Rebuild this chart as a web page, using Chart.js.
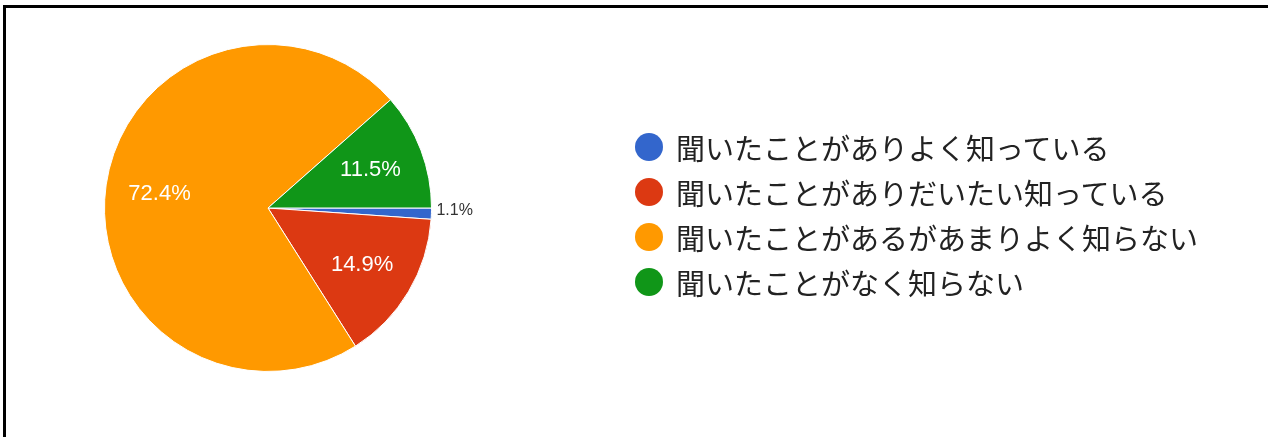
<!DOCTYPE html>
<html>
<head>
<meta charset="utf-8">
<script src="https://cdn.jsdelivr.net/npm/chart.js@4.4.1/dist/chart.umd.min.js"></script>
<style>
  html, body { margin: 0; padding: 0; background: #fff; }
  body { width: 1268px; height: 437px; position: relative; overflow: hidden; }
  #frame { position: absolute; left: 3px; top: 5px; width: 1280px; height: 450px;
           border-top: 3px solid #000; border-left: 3px solid #000; box-sizing: border-box; }
  #wrap { position: absolute; left: 0; top: 0; width: 1268px; height: 437px; }
  #legend { position: absolute; left: 635px; top: 124px; margin: 0; padding: 0; list-style: none;
            font-family: "Noto Sans CJK JP", sans-serif; font-size: 29px; color: #222; }
  #legend li { height: 45px; display: flex; align-items: center; white-space: nowrap; }
  #legend .dot { width: 28px; height: 28px; border-radius: 50%; margin-right: 13px; flex: none; }
</style>
</head>
<body>
<div id="frame"></div>
<div id="wrap"><canvas id="c" width="1268" height="437"></canvas></div>
<ul id="legend"></ul>
<script>
const categories = [
  "聞いたことがありよく知っている",
  "聞いたことがありだいたい知っている",
  "聞いたことがあるがあまりよく知らない",
  "聞いたことがなく知らない"
];
const values = [1.1, 14.9, 72.4, 11.5];
const labels = ["1.1%", "14.9%", "72.4%", "11.5%"];
const colors = ["#3366cc", "#dc3912", "#ff9900", "#109618"];

// HTML legend built from the arrays
const legendEl = document.getElementById('legend');
categories.forEach((name, i) => {
  const li = document.createElement('li');
  const dot = document.createElement('span');
  dot.className = 'dot';
  dot.style.background = colors[i];
  const txt = document.createElement('span');
  txt.textContent = name;
  li.appendChild(dot);
  li.appendChild(txt);
  legendEl.appendChild(li);
});

const sliceLabels = {
  id: 'sliceLabels',
  afterDatasetsDraw(chart) {
    const ctx = chart.ctx;
    const meta = chart.getDatasetMeta(0);
    const total = values.reduce((a, b) => a + b, 0);
    meta.data.forEach((arc, i) => {
      const p = arc.getProps(['x', 'y', 'startAngle', 'endAngle', 'outerRadius'], true);
      const mid = (p.startAngle + p.endAngle) / 2;
      ctx.save();
      ctx.textBaseline = 'middle';
      if (values[i] / total < 0.03) {
        ctx.font = '16px "Liberation Sans", Arial, sans-serif';
        ctx.fillStyle = '#333333';
        ctx.textAlign = 'left';
        const r = p.outerRadius + 5;
        ctx.fillText(labels[i], p.x + Math.cos(mid) * r, p.y + Math.sin(mid) * r - 3);
      } else {
        ctx.font = '22px "Liberation Sans", Arial, sans-serif';
        ctx.fillStyle = '#ffffff';
        ctx.textAlign = 'center';
        const r = p.outerRadius * 0.67;
        ctx.fillText(labels[i], p.x + Math.cos(mid) * r, p.y + Math.sin(mid) * r + 1);
      }
      ctx.restore();
    });
  }
};

new Chart(document.getElementById('c'), {
  type: 'pie',
  data: {
    labels: categories,
    datasets: [{
      data: values,
      backgroundColor: colors,
      borderColor: '#ffffff',
      borderWidth: 1
    }]
  },
  options: {
    responsive: false,
    animation: false,
    rotation: 90,
    layout: { padding: { left: 104, right: 836, top: 44, bottom: 65 } },
    plugins: {
      legend: { display: false },
      tooltip: { enabled: false }
    }
  },
  plugins: [sliceLabels]
});
</script>
</body>
</html>
